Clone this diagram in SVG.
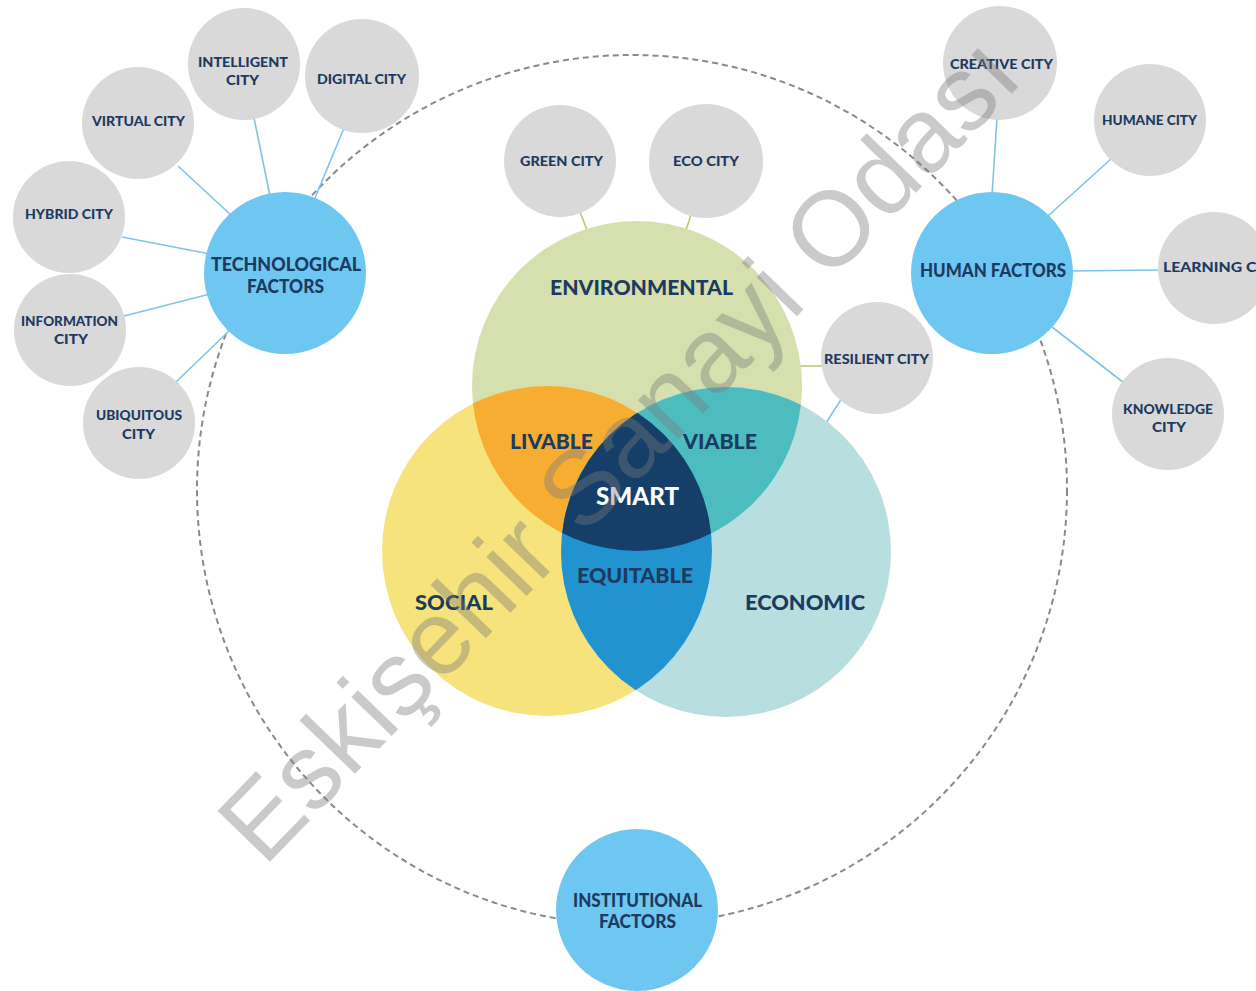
<svg xmlns="http://www.w3.org/2000/svg" width="1256" height="991" viewBox="0 0 1256 991">
<style>
.lbl{font-family:Lato,"Open Sans","Liberation Sans",sans-serif;font-weight:900;fill:#1d3a62;text-anchor:middle}
.s{font-size:14px}
.m{font-size:18px}
.b{font-size:21px}
.city{fill:#d9d9d9}
.fac{fill:#6ec7f0}
.cb{stroke:#7cc5ea;stroke-width:1.6;fill:none}
.cg{stroke:#b9cc6e;stroke-width:1.6;fill:none}
.ring{fill:none;stroke:#8a8a8a;stroke-width:2;stroke-dasharray:6 4}
.wm{font-family:"Liberation Sans",Arial,sans-serif;font-size:106px;fill:#7a7a7a;fill-opacity:0.4}
</style>
<defs>
<clipPath id="cEnv"><circle cx="637" cy="386" r="165"/></clipPath>
<clipPath id="cSoc"><circle cx="547" cy="551" r="165"/></clipPath>
</defs>
<rect width="1256" height="991" fill="#ffffff"/>
<g id="ring"><circle class="ring" cx="632" cy="490" r="435"/></g>
<g id="connectors">
<line class="cb" x1="178" y1="166" x2="232" y2="216"/>
<line class="cb" x1="254" y1="118" x2="270" y2="196"/>
<line class="cb" x1="344" y1="128" x2="315" y2="198"/>
<line class="cb" x1="122" y1="237" x2="210" y2="254"/>
<line class="cb" x1="124" y1="316" x2="210" y2="294"/>
<line class="cb" x1="176" y1="382" x2="230" y2="330"/>
<line class="cb" x1="997" y1="118" x2="992" y2="196"/>
<line class="cb" x1="1112" y1="158" x2="1048" y2="216"/>
<line class="cb" x1="1070" y1="271" x2="1160" y2="270"/>
<line class="cb" x1="1052" y1="327" x2="1124" y2="383"/>
<line class="cg" x1="580" y1="212" x2="587" y2="230"/>
<line class="cg" x1="692" y1="212" x2="686" y2="230"/>
<line class="cg" x1="798" y1="366" x2="824" y2="366"/>
<line class="cb" x1="842" y1="398" x2="826" y2="423"/>
</g>
<g id="venn">
<circle cx="637" cy="386" r="165" fill="#d5e0ae"/>
<circle cx="547" cy="551" r="165" fill="#f6e37c"/>
<circle cx="726" cy="552" r="165" fill="#b8dedf"/>
<circle cx="547" cy="551" r="165" fill="#f6ad32" clip-path="url(#cEnv)"/>
<circle cx="726" cy="552" r="165" fill="#4cbcbf" clip-path="url(#cEnv)"/>
<circle cx="726" cy="552" r="165" fill="#2194cf" clip-path="url(#cSoc)"/>
<g clip-path="url(#cEnv)"><circle cx="726" cy="552" r="165" fill="#153f69" clip-path="url(#cSoc)"/></g>
<text class="lbl b" x="641.5" y="294.5" textLength="183" lengthAdjust="spacingAndGlyphs">ENVIRONMENTAL</text>
<text class="lbl b" x="551.5" y="448.5" textLength="83" lengthAdjust="spacingAndGlyphs">LIVABLE</text>
<text class="lbl b" x="720" y="448.5" textLength="74" lengthAdjust="spacingAndGlyphs">VIABLE</text>
<text class="lbl" x="637.5" y="504.5" font-size="24" style="fill:#ffffff" textLength="83" lengthAdjust="spacingAndGlyphs">SMART</text>
<text class="lbl b" x="635" y="582.5" textLength="116" lengthAdjust="spacingAndGlyphs">EQUITABLE</text>
<text class="lbl b" x="454" y="609.5" textLength="78" lengthAdjust="spacingAndGlyphs">SOCIAL</text>
<text class="lbl b" x="805" y="609.5" textLength="120" lengthAdjust="spacingAndGlyphs">ECONOMIC</text>
</g>
<g id="intelligent-city"><circle class="city" cx="244" cy="64" r="56"/><text class="lbl s" x="243" y="67" textLength="90" lengthAdjust="spacingAndGlyphs">INTELLIGENT</text><text class="lbl s" x="242.5" y="85" textLength="33" lengthAdjust="spacingAndGlyphs">CITY</text></g>
<g id="digital-city"><circle class="city" cx="362" cy="76" r="57"/><text class="lbl s" x="361.5" y="84" textLength="89" lengthAdjust="spacingAndGlyphs">DIGITAL CITY</text></g>
<g id="virtual-city"><circle class="city" cx="138" cy="123" r="56"/><text class="lbl s" x="138.5" y="126" textLength="93" lengthAdjust="spacingAndGlyphs">VIRTUAL CITY</text></g>
<g id="hybrid-city"><circle class="city" cx="69" cy="217" r="56"/><text class="lbl s" x="69" y="219" textLength="88" lengthAdjust="spacingAndGlyphs">HYBRID CITY</text></g>
<g id="information-city"><circle class="city" cx="70" cy="330" r="56"/><text class="lbl s" x="69.5" y="326" textLength="97" lengthAdjust="spacingAndGlyphs">INFORMATION</text><text class="lbl s" x="71" y="344" textLength="34" lengthAdjust="spacingAndGlyphs">CITY</text></g>
<g id="ubiquitous-city"><circle class="city" cx="139" cy="423" r="56"/><text class="lbl s" x="139" y="420" textLength="86" lengthAdjust="spacingAndGlyphs">UBIQUITOUS</text><text class="lbl s" x="138.5" y="439" textLength="33" lengthAdjust="spacingAndGlyphs">CITY</text></g>
<g id="technological-factors"><circle class="fac" cx="285" cy="273" r="81"/><text class="lbl m" x="286" y="270.5" textLength="150" lengthAdjust="spacingAndGlyphs">TECHNOLOGICAL</text><text class="lbl m" x="285.5" y="292.5" textLength="77" lengthAdjust="spacingAndGlyphs">FACTORS</text></g>
<g id="green-city"><circle class="city" cx="560" cy="161" r="56"/><text class="lbl s" x="561.5" y="166" textLength="83" lengthAdjust="spacingAndGlyphs">GREEN CITY</text></g>
<g id="eco-city"><circle class="city" cx="706" cy="161" r="57"/><text class="lbl s" x="706" y="166" textLength="66" lengthAdjust="spacingAndGlyphs">ECO CITY</text></g>
<g id="resilient-city"><circle class="city" cx="877" cy="358" r="56"/><text class="lbl s" x="876.5" y="364" textLength="105" lengthAdjust="spacingAndGlyphs">RESILIENT CITY</text></g>
<g id="creative-city"><circle class="city" cx="1000" cy="63" r="57"/><text class="lbl s" x="1001.5" y="69" textLength="103" lengthAdjust="spacingAndGlyphs">CREATIVE CITY</text></g>
<g id="humane-city"><circle class="city" cx="1150" cy="120" r="56"/><text class="lbl s" x="1149.5" y="125" textLength="95" lengthAdjust="spacingAndGlyphs">HUMANE CITY</text></g>
<g id="learning-city"><circle class="city" cx="1214" cy="268" r="56"/><text class="lbl s" x="1163" y="272" style="text-anchor:start" textLength="118" lengthAdjust="spacingAndGlyphs">LEARNING CITY</text></g>
<g id="knowledge-city"><circle class="city" cx="1168" cy="414" r="56"/><text class="lbl s" x="1168" y="414" textLength="90" lengthAdjust="spacingAndGlyphs">KNOWLEDGE</text><text class="lbl s" x="1169" y="432" textLength="34" lengthAdjust="spacingAndGlyphs">CITY</text></g>
<g id="human-factors"><circle class="fac" cx="992" cy="273" r="81"/><text class="lbl m" x="993" y="276.5" textLength="146" lengthAdjust="spacingAndGlyphs">HUMAN FACTORS</text></g>
<g id="institutional-factors"><circle class="fac" cx="637" cy="910" r="81"/><text class="lbl m" x="637.5" y="906.5" textLength="129" lengthAdjust="spacingAndGlyphs">INSTITUTIONAL</text><text class="lbl m" x="637.5" y="927.5" textLength="77" lengthAdjust="spacingAndGlyphs">FACTORS</text></g>
<g id="watermark"><text class="wm" x="264" y="868" transform="rotate(-46 264 868)">Eskişehir Sanayi Odası</text></g>
</svg>
